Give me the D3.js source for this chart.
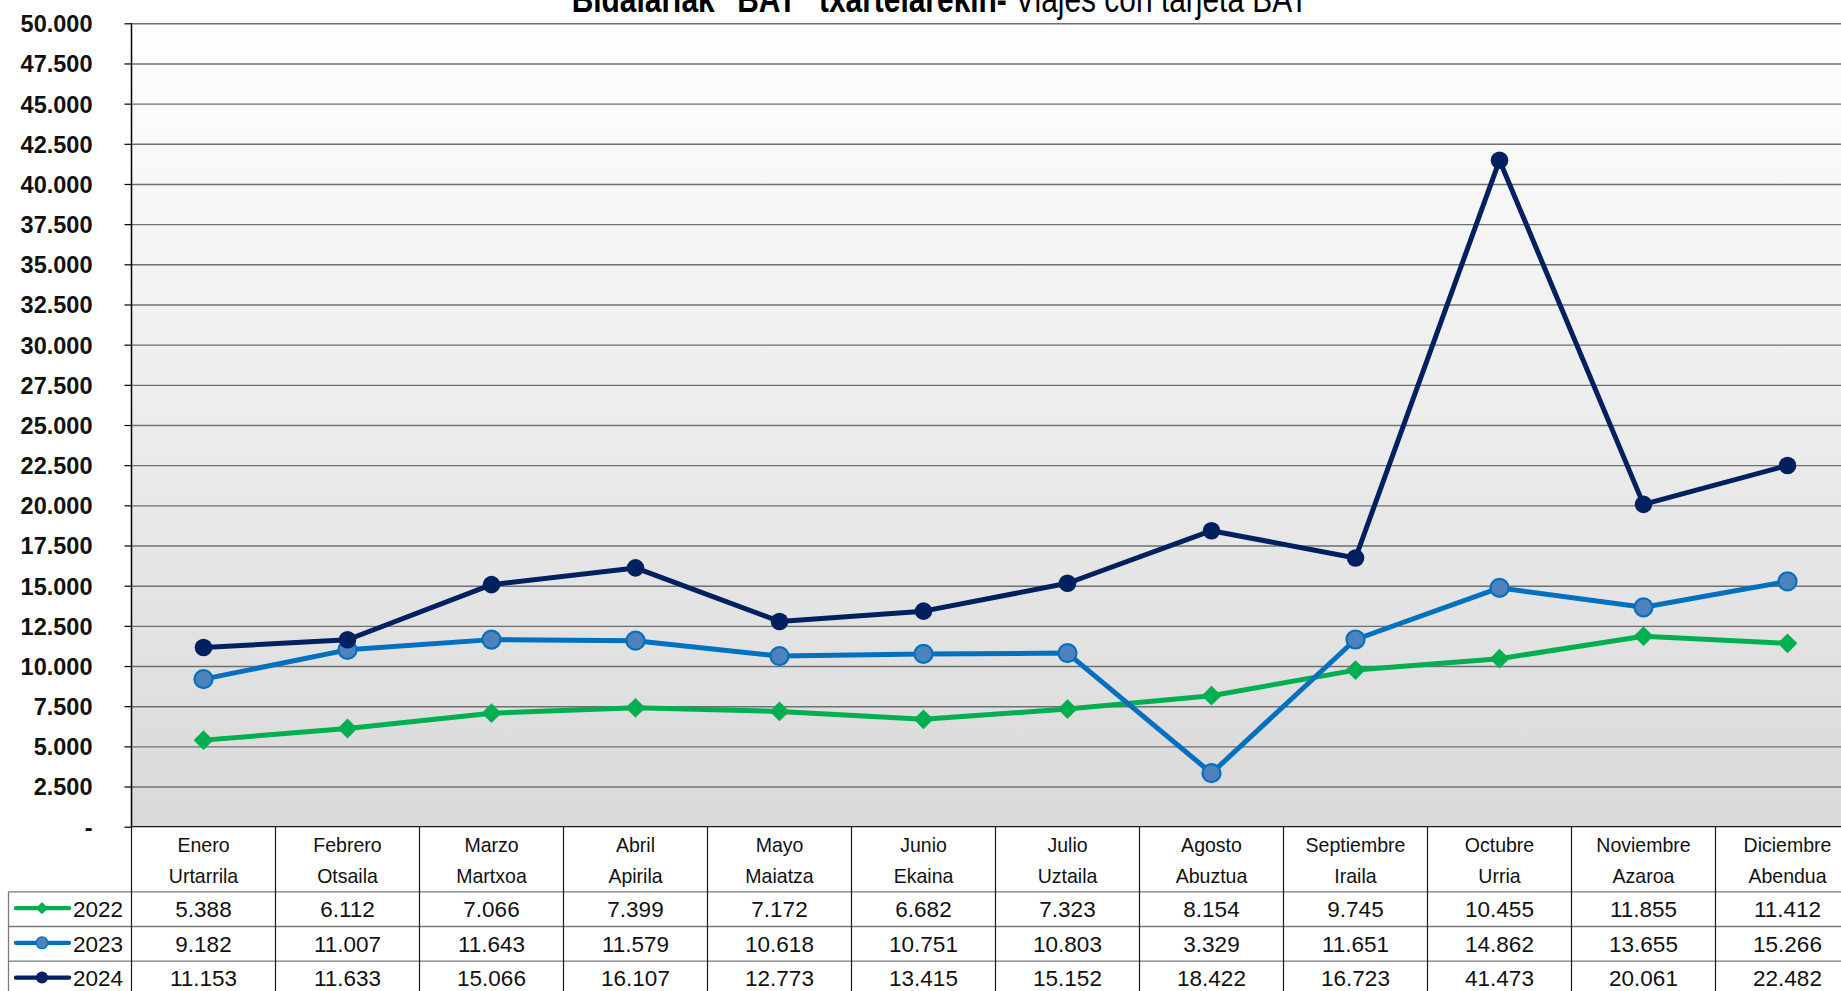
<!DOCTYPE html>
<html>
<head>
<meta charset="utf-8">
<script src="https://cdn.jsdelivr.net/npm/d3@7"></script>
<style>
  html, body { margin: 0; padding: 0; background: #ffffff; overflow: hidden; }
  svg { display: block; }
  .tbl { font-family: "Liberation Sans", Arial, sans-serif; font-size: 22.5px; fill: #111; }
  .tbl .hdr { font-size: 21px; }
  .yax text { font-family: "Liberation Sans", Arial, sans-serif; font-weight: bold; font-size: 23.5px; fill: #111; }
</style>
</head>
<body>
<svg id="chart" width="1841" height="991"></svg>
<script>
// Monthly trips with the BAT card, 2022-2024
const mesesEs = ["Enero", "Febrero", "Marzo", "Abril", "Mayo", "Junio", "Julio", "Agosto", "Septiembre", "Octubre", "Noviembre", "Diciembre"];
const mesesEu = ["Urtarrila", "Otsaila", "Martxoa", "Apirila", "Maiatza", "Ekaina", "Uztaila", "Abuztua", "Iraila", "Urria", "Azaroa", "Abendua"];
const anios = ["2022", "2023", "2024"];
const v2022 = [5388, 6112, 7066, 7399, 7172, 6682, 7323, 8154, 9745, 10455, 11855, 11412];
const v2023 = [9182, 11007, 11643, 11579, 10618, 10751, 10803, 3329, 11651, 14862, 13655, 15266];
const v2024 = [11153, 11633, 15066, 16107, 12773, 13415, 15152, 18422, 16723, 41473, 20061, 22482];
const yTicks = [0, 2500, 5000, 7500, 10000, 12500, 15000, 17500, 20000, 22500, 25000, 27500, 30000, 32500, 35000, 37500, 40000, 42500, 45000, 47500, 50000];

const series = [
  { name: anios[0], values: v2022, color: "#00b050", marker: "diamond", fill: "#00b050" },
  { name: anios[1], values: v2023, color: "#0070c0", marker: "circle", fill: "#4f81bd" },
  { name: anios[2], values: v2024, color: "#002060", marker: "circle", fill: "#002060" }
];

const es = d3.formatLocale({ decimal: ",", thousands: ".", grouping: [3], currency: ["", " €"] });
const fmt = es.format(",d");

const svg = d3.select("#chart");
const plotLeft = 131.5, colW = 144, plotTop = 23.3, plotBottom = 826.7;
const plotRight = plotLeft + colW * mesesEs.length;
const legendLeft = 8.5;

const x = d3.scaleBand().domain(d3.range(mesesEs.length)).range([plotLeft, plotRight]).padding(0);
const y = d3.scaleLinear().domain([0, 50000]).range([plotBottom, plotTop]);
const cx = i => x(i) + x.bandwidth() / 2;

// plot background: white to light grey
const defs = svg.append("defs");
const grad = defs.append("linearGradient").attr("id", "bg").attr("x1", 0).attr("y1", 0).attr("x2", 0).attr("y2", 1);
grad.append("stop").attr("offset", "0%").attr("stop-color", "#ffffff");
grad.append("stop").attr("offset", "100%").attr("stop-color", "#d9d9d9");
svg.append("rect").attr("x", plotLeft).attr("y", plotTop).attr("width", plotRight - plotLeft).attr("height", plotBottom - plotTop).attr("fill", "url(#bg)");

// horizontal gridlines
svg.append("g")
  .attr("transform", `translate(${plotLeft},0)`)
  .call(d3.axisLeft(y).tickValues(yTicks.slice(1)).tickSize(-(plotRight - plotLeft)).tickFormat(""))
  .call(g => g.select(".domain").remove())
  .call(g => g.selectAll(".tick line").attr("stroke", "#6f6f6f").attr("stroke-width", 1.4));

// value axis
const yAxis = svg.append("g").attr("class", "yax")
  .attr("transform", `translate(${plotLeft},0)`)
  .call(d3.axisLeft(y).tickValues(yTicks).tickSize(7).tickPadding(32)
    .tickFormat(d => d === 0 ? "-" : fmt(d)));
yAxis.select(".domain").attr("stroke", "#000").attr("stroke-width", 1.5).attr("d", `M0,${plotTop}V${plotBottom}`);
yAxis.selectAll(".tick line").attr("stroke", "#000").attr("stroke-width", 1.2);
yAxis.selectAll(".tick text").attr("dy", "0.36em");

// series lines and markers
const line = d3.line().x((d, i) => cx(i)).y(d => y(d));
const diamond = d3.symbol().type(d3.symbolDiamond2).size(250);
series.forEach(s => {
  svg.append("path").datum(s.values)
    .attr("d", line).attr("fill", "none").attr("stroke", s.color)
    .attr("stroke-width", 5).attr("stroke-linejoin", "round").attr("stroke-linecap", "round");
  const m = svg.append("g").selectAll("g").data(s.values).join("g")
    .attr("transform", (d, i) => `translate(${cx(i)},${y(d)})`);
  if (s.marker === "diamond") {
    m.append("path").attr("d", diamond).attr("fill", s.fill);
  } else if (s.fill === s.color) {
    m.append("circle").attr("r", 8.8).attr("fill", s.fill);
  } else {
    m.append("circle").attr("r", 9).attr("fill", s.fill).attr("stroke", s.color).attr("stroke-width", 2.2);
  }
});

// data table beneath the plot
const rowY = [891.8, 926.5, 961.2, 996];
const tbl = svg.append("g").attr("class", "tbl");

// grey row rules
rowY.slice(0, 3).forEach(yy => {
  tbl.append("line").attr("x1", legendLeft).attr("x2", plotRight).attr("y1", yy).attr("y2", yy)
    .attr("stroke", "#7a7a7a").attr("stroke-width", 1.3);
});
tbl.append("line").attr("x1", legendLeft).attr("x2", legendLeft).attr("y1", rowY[0]).attr("y2", 991)
  .attr("stroke", "#7a7a7a").attr("stroke-width", 1.3);
// column separators
d3.range(mesesEs.length + 1).forEach(i => {
  const xx = plotLeft + i * colW;
  tbl.append("line").attr("x1", xx).attr("x2", xx).attr("y1", plotBottom).attr("y2", 991)
    .attr("stroke", "#1a1a1a").attr("stroke-width", 1.2);
});
tbl.append("line").attr("x1", plotLeft).attr("x2", plotRight).attr("y1", plotBottom).attr("y2", plotBottom)
  .attr("stroke", "#1a1a1a").attr("stroke-width", 1.3);

// month headers (slightly condensed)
tbl.selectAll("text.es").data(mesesEs).join("text").attr("class", "es hdr")
  .attr("transform", (d, i) => `translate(${cx(i)},851.5) scale(0.93,1)`)
  .attr("text-anchor", "middle").text(d => d);
tbl.selectAll("text.eu").data(mesesEu).join("text").attr("class", "eu hdr")
  .attr("transform", (d, i) => `translate(${cx(i)},883) scale(0.93,1)`)
  .attr("text-anchor", "middle").text(d => d);

// value rows with legend keys
const baseY = [916.5, 951.5, 985.5];
series.forEach((s, r) => {
  const by = baseY[r];
  const my = (rowY[r] + rowY[r + 1]) / 2 - 1;
  tbl.append("line").attr("x1", 16).attr("x2", 69).attr("y1", my).attr("y2", my)
    .attr("stroke", s.color).attr("stroke-width", 4.4).attr("stroke-linecap", "round");
  if (s.marker === "diamond") {
    tbl.append("path").attr("transform", `translate(42,${my})`)
      .attr("d", d3.symbol().type(d3.symbolDiamond2).size(95)).attr("fill", s.fill);
  } else if (s.fill === s.color) {
    tbl.append("circle").attr("cx", 42).attr("cy", my).attr("r", 6).attr("fill", s.fill);
  } else {
    tbl.append("circle").attr("cx", 42).attr("cy", my).attr("r", 5.8).attr("fill", s.fill)
      .attr("stroke", s.color).attr("stroke-width", 1.4);
  }
  tbl.append("text").attr("x", 73).attr("y", by).text(s.name);
  tbl.selectAll(null).data(s.values).join("text")
    .attr("x", (d, i) => cx(i)).attr("y", by).attr("text-anchor", "middle").text(d => fmt(d));
});

// title (upper part falls outside the canvas)
const title = svg.append("text")
  .attr("transform", "translate(940,11.5) scale(0.82,1)")
  .attr("text-anchor", "middle")
  .style("font-family", "'Liberation Sans', Arial, sans-serif").style("font-size", "36.5px").attr("fill", "#000");
title.append("tspan").attr("font-weight", "bold").text("Bidalariak \"BAT\" txartelarekin-");
title.append("tspan").text(" Viajes con tarjeta BAT");
</script>
</body>
</html>
